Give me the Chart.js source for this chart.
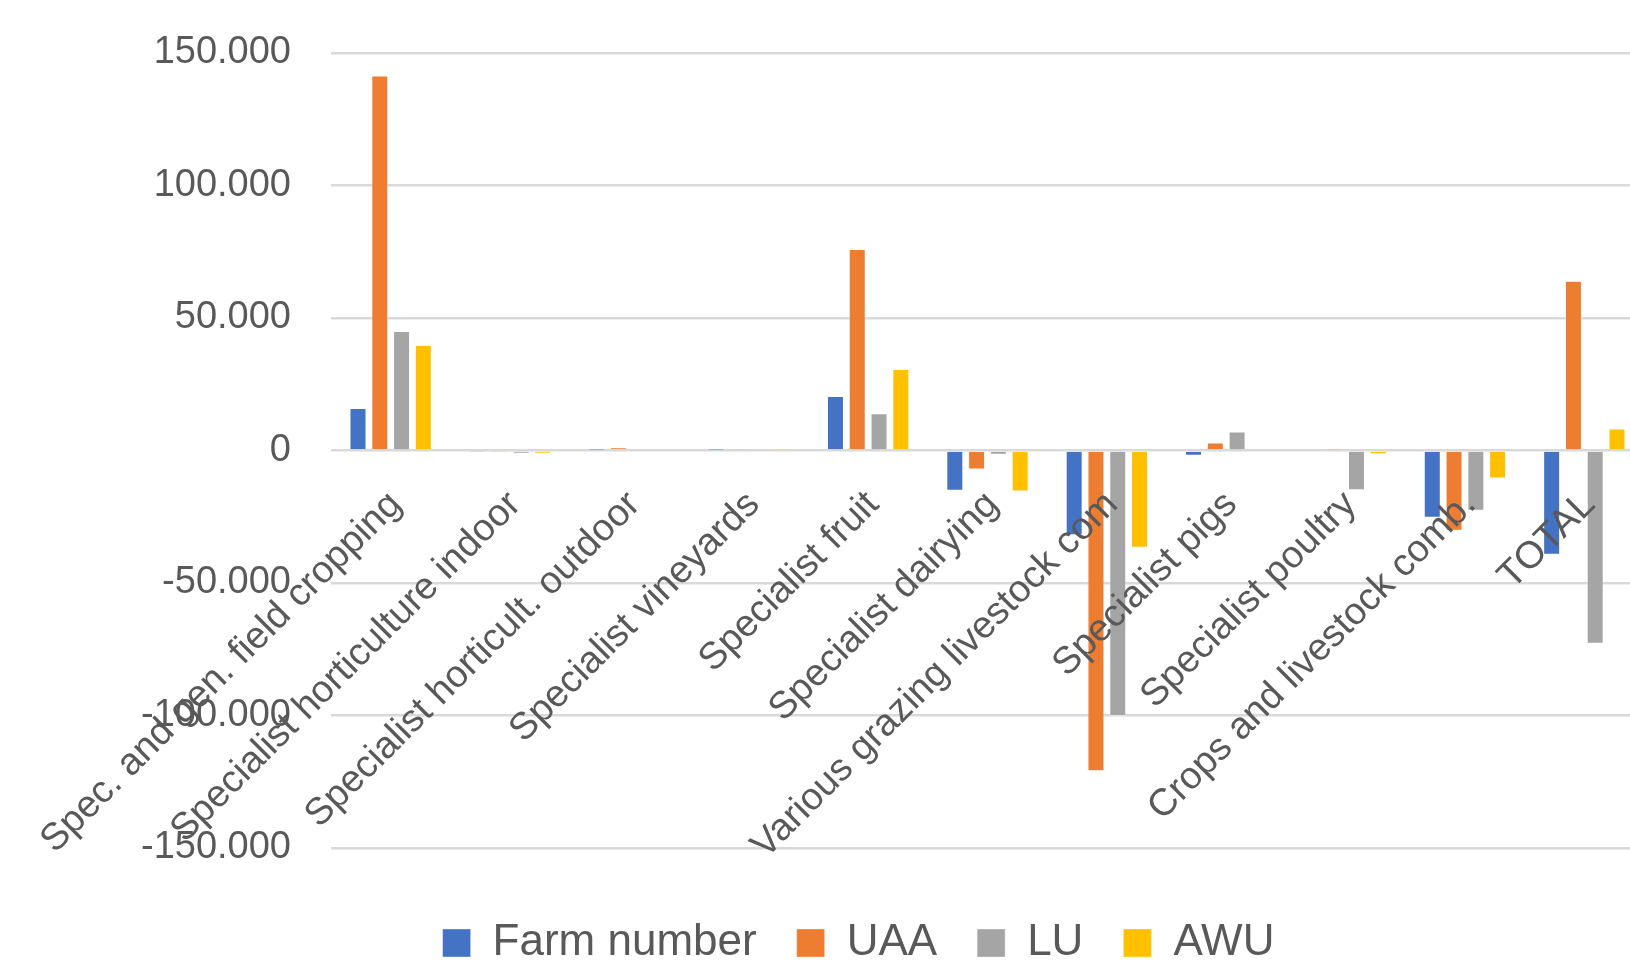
<!DOCTYPE html>
<html>
<head>
<meta charset="utf-8">
<script src="https://cdn.jsdelivr.net/npm/chart.js@4/dist/chart.umd.min.js"></script>
<style>
  html, body { margin: 0; padding: 0; background: #ffffff; overflow: hidden; width: 1630px; height: 963px; }
  canvas { display: block; }
</style>
</head>
<body>
<canvas id="c" width="1716" height="963"></canvas>
<script>
const categories = [
  'Spec. and gen. field cropping',
  'Specialist horticulture indoor',
  'Specialist horticult. outdoor',
  'Specialist vineyards',
  'Specialist fruit',
  'Specialist dairying',
  'Various grazing livestock com',
  'Specialist pigs',
  'Specialist poultry',
  'Crops and livestock comb.',
  'TOTAL'
];
const farmNumber = [16000, -300, 100, 100, 20600, -15200, -32000, -2000, -500, -25400, -39300];
const uaa        = [141500, -300, 1200, 700, 76000, -7200, -121000, 3000, 200, -30300, 64100];
const lu         = [45100, -1200, 0, 0, 14100, -1600, -100200, 7200, -15000, -22700, -72900];
const awu        = [39800, -1200, 0, 200, 30800, -15500, -36700, 0, -1400, -10600, 8300];
const seriesNames = ['Farm number', 'UAA', 'LU', 'AWU'];
const yTicks = [-150000, -100000, -50000, 0, 50000, 100000, 150000];

const colors = ['#4472C4', '#ED7D31', '#A5A5A5', '#FFC000'];
const fam = "'Liberation Sans', Arial, sans-serif";
const textColor = '#595959';

function fmt(v) {
  const neg = v < 0;
  let s = String(Math.abs(Math.round(v)));
  s = s.replace(/\B(?=(\d{3})+(?!\d))/g, '.');
  return (neg ? '-' : '') + s;
}

const dataSeries = [farmNumber, uaa, lu, awu];
new Chart(document.getElementById('c'), {
  type: 'bar',
  data: {
    labels: categories,
    datasets: dataSeries.map((d, i) => ({
      label: seriesNames[i],
      data: d,
      xAxisID: 'x',
      yAxisID: 'y',
      backgroundColor: colors[i],
      borderColor: 'rgba(255,255,255,0.35)',
      borderWidth: 1,
      categoryPercentage: 0.73,
      barPercentage: 0.78
    }))
  },
  options: {
    responsive: false,
    animation: false,
    devicePixelRatio: 1,
    layout: { padding: { left: 73, right: 72, top: 53, bottom: -12 } },
    plugins: {
      legend: {
        position: 'bottom',
        labels: {
          boxWidth: 28,
          boxHeight: 28,
          padding: 40,
          color: textColor,
          font: { family: fam, size: 44 }
        }
      },
      tooltip: { enabled: false },
      title: { display: false }
    },
    scales: {
      x: {
        position: { y: 0 },
        afterFit: s => { s.height = 0; s.paddingLeft = 0; s.paddingRight = 0; },
        grid: { display: false, drawTicks: false },
        border: { display: false },
        ticks: {
          z: 1,
          autoSkip: false,
          minRotation: 45,
          maxRotation: 45,
          color: textColor,
          font: { family: fam, size: 38 },
          padding: 32,
          labelOffset: 5
        }
      },
      y: {
        min: -150000,
        max: 150000,
        afterBuildTicks: s => { s.ticks = yTicks.map(v => ({ value: v })); },
        afterFit: s => { s.width = 258; s.paddingTop = 0; s.paddingBottom = 0; },
        ticks: {
          callback: v => fmt(v),
          color: textColor,
          font: { family: fam, size: 38 },
          padding: 40
        },
        grid: { color: '#D9D9D9', lineWidth: 2.6, drawTicks: false },
        border: { display: false }
      },
      gap: {
        type: 'category',
        position: 'bottom',
        display: true,
        afterFit: s => { s.height = 33; s.paddingLeft = 0; s.paddingRight = 0; },
        grid: { display: false, drawTicks: false },
        border: { display: false },
        ticks: { display: false }
      }
    }
  }
});
</script>
</body>
</html>
